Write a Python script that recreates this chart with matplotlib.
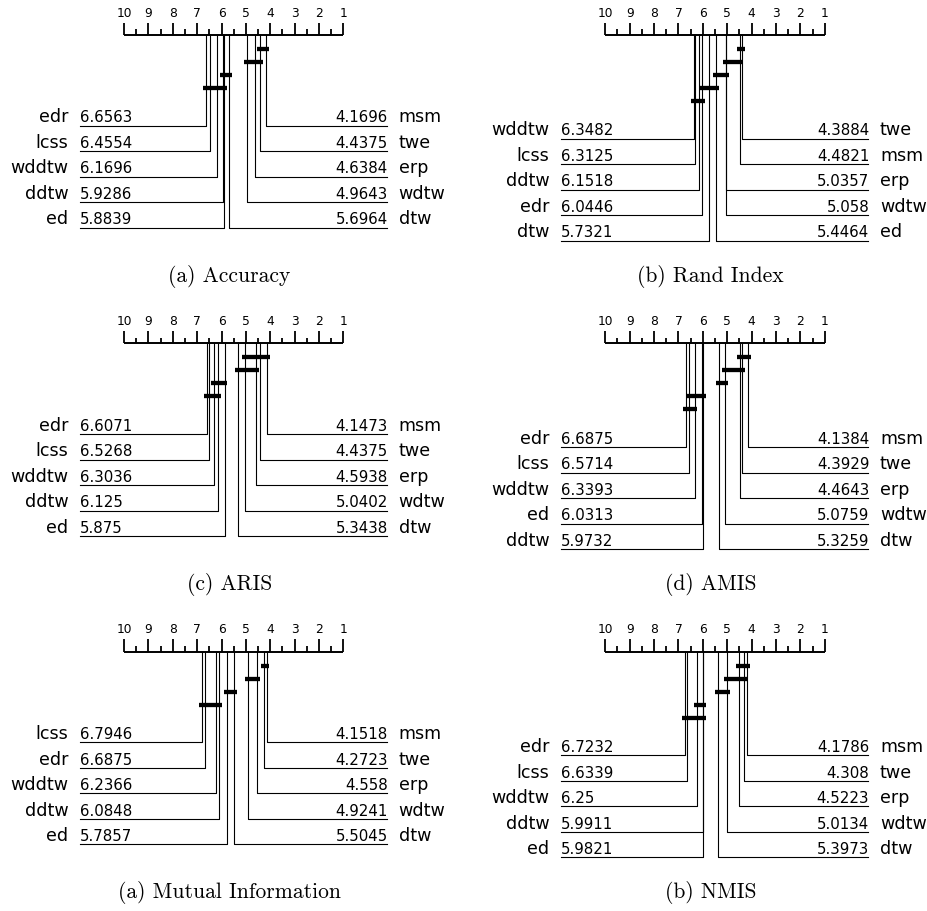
import numpy as np
import matplotlib
matplotlib.use('Agg')
import matplotlib.pyplot as plt

plt.rcParams['font.family'] = 'DejaVu Sans'

# Average ranks (lower is better) for the six metrics
acc_names = ['edr', 'lcss', 'wddtw', 'ddtw', 'ed', 'msm', 'twe', 'erp', 'wdtw', 'dtw']
acc_ranks = [6.6563, 6.4554, 6.1696, 5.9286, 5.8839, 4.1696, 4.4375, 4.6384, 4.9643, 5.6964]
acc_cliques = [('msm', 'twe'), ('twe', 'wdtw'), ('ddtw', 'dtw'), ('edr', 'ed')]

ri_names = ['wddtw', 'lcss', 'ddtw', 'edr', 'dtw', 'twe', 'msm', 'erp', 'wdtw', 'ed']
ri_ranks = [6.3482, 6.3125, 6.1518, 6.0446, 5.7321, 4.3884, 4.4821, 5.0357, 5.058, 5.4464]
ri_cliques = [('twe', 'msm'), ('msm', 'wdtw'), ('erp', 'ed'), ('edr', 'ed'), ('wddtw', 'edr')]

aris_names = ['edr', 'lcss', 'wddtw', 'ddtw', 'ed', 'msm', 'twe', 'erp', 'wdtw', 'dtw']
aris_ranks = [6.6071, 6.5268, 6.3036, 6.125, 5.875, 4.1473, 4.4375, 4.5938, 5.0402, 5.3438]
aris_cliques = [('msm', 'wdtw'), ('erp', 'dtw'), ('wddtw', 'ed'), ('edr', 'ddtw')]

amis_names = ['edr', 'lcss', 'wddtw', 'ed', 'ddtw', 'msm', 'twe', 'erp', 'wdtw', 'dtw']
amis_ranks = [6.6875, 6.5714, 6.3393, 6.0313, 5.9732, 4.1384, 4.3929, 4.4643, 5.0759, 5.3259]
amis_cliques = [('msm', 'erp'), ('twe', 'wdtw'), ('wdtw', 'dtw'), ('lcss', 'ddtw'), ('edr', 'wddtw')]

mi_names = ['lcss', 'edr', 'wddtw', 'ddtw', 'ed', 'msm', 'twe', 'erp', 'wdtw', 'dtw']
mi_ranks = [6.7946, 6.6875, 6.2366, 6.0848, 5.7857, 4.1518, 4.2723, 4.558, 4.9241, 5.5045]
mi_cliques = [('msm', 'twe'), ('erp', 'wdtw'), ('ed', 'dtw'), ('lcss', 'ddtw')]

nmis_names = ['edr', 'lcss', 'wddtw', 'ddtw', 'ed', 'msm', 'twe', 'erp', 'wdtw', 'dtw']
nmis_ranks = [6.7232, 6.6339, 6.25, 5.9911, 5.9821, 4.1786, 4.308, 4.5223, 5.0134, 5.3973]
nmis_cliques = [('msm', 'erp'), ('twe', 'wdtw'), ('wdtw', 'dtw'), ('wddtw', 'ed'), ('edr', 'ed')]

captions = ['(a) Accuracy', '(b) Rand Index', '(c) ARIS', '(d) AMIS',
            '(a) Mutual Information', '(b) NMIS']

# layout (pixels)
W, H = 928, 911
SPAN = 219.4                  # width of the 10..1 scale
PX = SPAN / 9                 # pixels per rank
AX_H = 260
col_x10 = [124, 605.3]
row_y = [35, 343.3, 651.7]

fig = plt.figure(figsize=(W / 100, H / 100), dpi=100)


def draw_cd(x10, y0, names, ranks, cliques, caption):
    ax = fig.add_axes([x10 / W, 1 - (y0 + AX_H) / H, SPAN / W, AX_H / H])
    ax.set_xlim(10, 1)
    ax.set_ylim(AX_H, 0)
    ax.axis('off')

    # scale
    ax.plot([10, 1], [0, 0], color='k', lw=1.4, solid_capstyle='butt', clip_on=False)
    for r in np.arange(1, 10.5, 0.5):
        tick = 12.3 if r == int(r) else 5.7
        ax.plot([r, r], [0, -tick], color='k', lw=1.3, solid_capstyle='butt', clip_on=False)
    for r in range(1, 11):
        ax.text(r, -18.3, str(r), ha='center', va='baseline', fontsize=8.8)

    order = sorted(range(len(ranks)), key=lambda i: ranks[i], reverse=True)
    k = len(order)
    half = (k + 1) // 2
    first = 38.7 + 13 * len(cliques)
    left_end = 10 + 44 / PX
    right_end = 1 - 43.6 / PX

    for pos, i in enumerate(order):
        r = ranks[i]
        if pos < half:
            yy = first + 25.5 * pos
            ax.plot([r, r, left_end], [0, yy, yy], color='k', lw=0.8, clip_on=False)
            ax.text(left_end, yy - 3.4, str(r), ha='left', va='baseline', fontsize=10.8)
            ax.text(10 + 55.7 / PX, yy - 3.4, names[i], ha='right', va='baseline', fontsize=12.6)
        else:
            yy = first + 25.5 * (k - pos - 1)
            ax.plot([r, r, right_end], [0, yy, yy], color='k', lw=0.8, clip_on=False)
            ax.text(right_end - 1 / PX, yy - 3.4, str(r), ha='right', va='baseline', fontsize=10.8)
            ax.text(1 - 55.3 / PX, yy - 3.4, names[i], ha='left', va='baseline', fontsize=12.6)

    # groups with no significant difference
    for j, (a, b) in enumerate(cliques):
        ra = ranks[names.index(a)]
        rb = ranks[names.index(b)]
        yy = 14 + 13 * j
        ax.plot([max(ra, rb) + 0.12, min(ra, rb) - 0.12], [yy, yy], color='k', lw=3.1,
                solid_capstyle='butt', clip_on=False, zorder=5)

    fig.text((x10 + SPAN / 2 - 4.5) / W, 1 - (y0 + 241.3) / H, caption,
             ha='center', va='center', family='cmr10', fontsize=15.5)


panels = [
    (acc_names, acc_ranks, acc_cliques),
    (ri_names, ri_ranks, ri_cliques),
    (aris_names, aris_ranks, aris_cliques),
    (amis_names, amis_ranks, amis_cliques),
    (mi_names, mi_ranks, mi_cliques),
    (nmis_names, nmis_ranks, nmis_cliques),
]

for p, (names, ranks, cliques) in enumerate(panels):
    draw_cd(col_x10[p % 2], row_y[p // 2], names, ranks, cliques, captions[p])

fig.savefig('out.png', dpi=100)
